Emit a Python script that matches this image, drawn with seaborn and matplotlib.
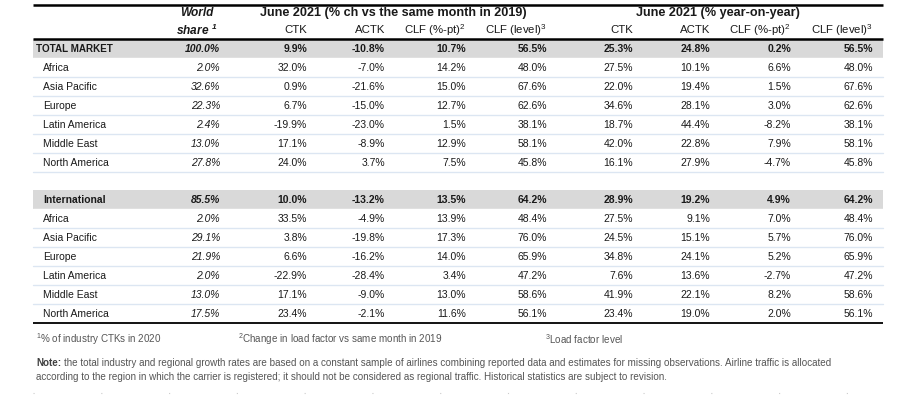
import matplotlib
matplotlib.use("Agg")
import matplotlib.pyplot as plt
import seaborn as sns

# =========================
# DATA
# =========================

regions = ["Africa", "Asia Pacific", "Europe", "Latin America", "Middle East", "North America"]
block_titles = ["TOTAL MARKET", "International"]

# first value of each list = aggregate row, then the six regions
tm_share = [100.0, 2.0, 32.6, 22.3, 2.4, 13.0, 27.8]
tm_ctk_19 = [9.9, 32.0, 0.9, 6.7, -19.9, 17.1, 24.0]
tm_actk_19 = [-10.8, -7.0, -21.6, -15.0, -23.0, -8.9, 3.7]
tm_clfpt_19 = [10.7, 14.2, 15.0, 12.7, 1.5, 12.9, 7.5]
tm_clflvl_19 = [56.5, 48.0, 67.6, 62.6, 38.1, 58.1, 45.8]
tm_ctk_yoy = [25.3, 27.5, 22.0, 34.6, 18.7, 42.0, 16.1]
tm_actk_yoy = [24.8, 10.1, 19.4, 28.1, 44.4, 22.8, 27.9]
tm_clfpt_yoy = [0.2, 6.6, 1.5, 3.0, -8.2, 7.9, -4.7]
tm_clflvl_yoy = [56.5, 48.0, 67.6, 62.6, 38.1, 58.1, 45.8]

int_share = [85.5, 2.0, 29.1, 21.9, 2.0, 13.0, 17.5]
int_ctk_19 = [10.0, 33.5, 3.8, 6.6, -22.9, 17.1, 23.4]
int_actk_19 = [-13.2, -4.9, -19.8, -16.2, -28.4, -9.0, -2.1]
int_clfpt_19 = [13.5, 13.9, 17.3, 14.0, 3.4, 13.0, 11.6]
int_clflvl_19 = [64.2, 48.4, 76.0, 65.9, 47.2, 58.6, 56.1]
int_ctk_yoy = [28.9, 27.5, 24.5, 34.8, 7.6, 41.9, 23.4]
int_actk_yoy = [19.2, 9.1, 15.1, 24.1, 13.6, 22.1, 19.0]
int_clfpt_yoy = [4.9, 7.0, 5.7, 5.2, -2.7, 8.2, 2.0]
int_clflvl_yoy = [64.2, 48.4, 76.0, 65.9, 47.2, 58.6, 56.1]

sub_headers = ["CTK", "ACTK", r"CLF (%-pt)$^2$", r"CLF (level)$^3$"]
group_headers = ["June 2021 (% ch vs the same month in 2019)", "June 2021 (% year-on-year)"]
footnotes = [r"$^1$% of industry CTKs in 2020",
             r"$^2$Change in load factor vs same month in 2019",
             r"$^3$Load factor level"]
note_lines = [
    "the total industry and regional growth rates are based on a constant sample of airlines "
    "combining reported data and estimates for missing observations. Airline traffic is allocated",
    "according to the region in which the carrier is registered; it should not be considered as "
    "regional traffic. Historical statistics are subject to revision.",
]

blocks = [
    [tm_share, tm_ctk_19, tm_actk_19, tm_clfpt_19, tm_clflvl_19,
     tm_ctk_yoy, tm_actk_yoy, tm_clfpt_yoy, tm_clflvl_yoy],
    [int_share, int_ctk_19, int_actk_19, int_clfpt_19, int_clflvl_19,
     int_ctk_yoy, int_actk_yoy, int_clfpt_yoy, int_clflvl_yoy],
]

# =========================
# LAYOUT / STYLE
# =========================

sns.set_theme(style="white")
plt.rcParams["font.family"] = ["Liberation Sans", "DejaVu Sans"]
plt.rcParams["mathtext.fontset"] = "custom"
plt.rcParams["mathtext.rm"] = "Liberation Sans"
plt.rcParams["mathtext.it"] = "Liberation Sans:italic"
plt.rcParams["mathtext.bf"] = "Liberation Sans:italic:bold"

W, H = 911, 402
left, right = 33, 883
col_right = [220, 307, 385, 466, 547, 633, 710, 791, 873]
block_top = [49, 200]
row_step = 19
fs = 7.5
txt = "#1a1a1a"
grey = "#555555"
band = "#d9d9d9"
sep = "#dce6f2"

fig = plt.figure(figsize=(W / 100, H / 100), dpi=100)
ax = fig.add_axes([0, 0, 1, 1])
ax.set_xlim(0, W)
ax.set_ylim(H, 0)
ax.axis("off")

# header
ax.plot([left, right], [6, 6], color="black", lw=1.8, solid_capstyle="butt")
ax.plot([left, right], [40, 40], color="black", lw=1.8, solid_capstyle="butt")
ax.text(197, 13, "World", ha="center", va="center", fontsize=8.6, fontweight="bold",
        style="italic", color=txt)
ax.text(197, 30, r"share $^{\mathbf{1}}$", ha="center", va="center", fontsize=8.6,
        fontweight="bold", style="italic", color=txt)
ax.text(393, 13, group_headers[0], ha="center", va="center", fontsize=9.1,
        fontweight="bold", color=txt)
ax.text(718, 13, group_headers[1], ha="center", va="center", fontsize=9.1,
        fontweight="bold", color=txt)
for g in range(2):
    for j, h in enumerate(sub_headers):
        ax.text(col_right[1 + 4 * g + j], 30, h, ha="right", va="center",
                fontsize=8.2, color=txt)

# body
for b, cols in enumerate(blocks):
    y0 = block_top[b]
    ax.axhspan(y0 - 9.5, y0 + 9.5, xmin=left / W, xmax=right / W, color=band, lw=0)
    title_x = 36 if b == 0 else 43
    ax.text(title_x, y0, block_titles[b], ha="left", va="center",
            fontsize=7.1 if b == 0 else fs, fontweight="bold", color=txt)
    for i in range(7):
        y = y0 + i * row_step
        bold = "bold" if i == 0 else "normal"
        if i > 0:
            ax.text(43, y, regions[i - 1], ha="left", va="center", fontsize=fs, color=txt)
        if i < 6 or b == 0:
            ax.plot([left, right], [y + 9.5, y + 9.5], color=sep if i > 0 else "white",
                    lw=1.0)
        for c, vals in enumerate(cols):
            ax.text(col_right[c], y, f"{vals[i]:.1f}%", ha="right", va="center",
                    fontsize=fs, fontweight=bold, color=txt,
                    style="italic" if c == 0 else "normal")

ax.plot([left, right], [324, 324], color="black", lw=1.3, solid_capstyle="butt")

# footnotes
for x, f in zip([36, 238, 545], footnotes):
    ax.text(x, 339, f, ha="left", va="center", fontsize=7.15, color=grey)

fig.canvas.draw()
rend = fig.canvas.get_renderer()
t = ax.text(36, 363, "Note:", ha="left", va="center", fontsize=7.15,
            fontweight="bold", color="#404040")
bb = t.get_window_extent(renderer=rend)
ax.text(bb.x1 + 3, 363, note_lines[0], ha="left", va="center", fontsize=7.15,
        color=grey)
ax.text(36, 377, note_lines[1], ha="left", va="center", fontsize=7.15, color=grey)

ax.plot([left, right], [394, 394], color="#cccccc", lw=0.8, ls=(0, (1, 60)))

fig.savefig("out.png", dpi=100)
